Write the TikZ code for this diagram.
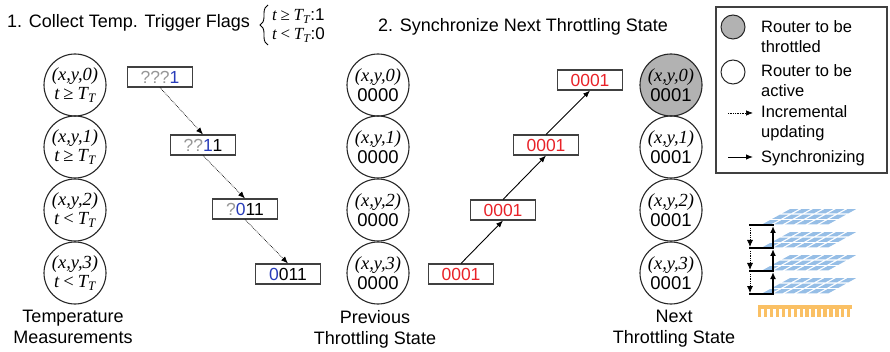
\documentclass[tikz,border=0pt]{standalone}
\usepackage{fontspec}
\setmainfont{Liberation Sans}
\newfontfamily\timesfont{Liberation Serif}
\usetikzlibrary{arrows.meta,decorations.pathreplacing}

\definecolor{qgray}{RGB}{150,150,150}
\definecolor{newbit}{RGB}{40,60,185}
\definecolor{syncred}{RGB}{232,34,40}
\definecolor{hotgray}{RGB}{178,178,178}
\definecolor{tileblue}{RGB}{150,190,230}
\definecolor{sinkorange}{RGB}{250,192,100}

% coordinate and temperature labels inside a router
\newcommand\rxyz[1]{{\timesfont\itshape (x,y,#1)}}
\newcommand\tge{{\timesfont\itshape t\hspace{0.22em}{\upshape ≥}\hspace{0.22em}T\textsubscript{T}}}
\newcommand\tlt{{\timesfont\itshape t\hspace{0.22em}{\upshape <}\hspace{0.22em}T\textsubscript{T}}}
% flag strings: unknown bits, newly written bit, known bits
\newcommand\flags[3]{{\color{qgray}#1}{\color{newbit}#2}#3}

\begin{document}
\begin{tikzpicture}[x=1pt,y=-1pt,
  router/.style={circle, draw=black!85, line width=1.1pt, minimum size=62pt,
    inner sep=0pt, align=center, font=\fontsize{18.5}{19.5}\selectfont},
  hot/.style={router, fill=hotgray},
  flagbox/.style={draw=black!75, line width=1.1pt, minimum width=65pt,
    minimum height=20pt, inner sep=0pt, font=\fontsize{17.5}{18}\selectfont},
  syncbox/.style={flagbox, text=syncred},
  lbl/.style={align=center, inner sep=0pt, font=\fontsize{18}{21}\selectfont},
  title/.style={inner sep=0pt, font=\fontsize{18}{21}\selectfont},
  cond/.style={inner sep=0pt, anchor=base west, font=\fontsize{17}{18}\selectfont},
  legtext/.style={inner sep=0pt, anchor=base west, font=\fontsize{16.5}{20}\selectfont},
  tip/.style={-{Latex[length=7pt,width=5.5pt]}},
  incr/.style={tip, densely dotted, line width=0.7pt},
  sync/.style={tip, line width=0.9pt},
]
\useasboundingbox (0,0) rectangle (890,352);

% ---------------- titles ----------------
\node[title, anchor=base west] (t1) at (7,28) {1. Collect Temp. Trigger Flags};
\draw[line width=0.9pt, decorate, decoration={brace, amplitude=8pt}]
  (268,45) -- (268,5);
\node[cond] (c1) at (272,21) {\tge:1};
\node[cond] (c0) at (272,40) {\tlt:0};
\node[title, anchor=base west] (t2) at (378,32) {2. Synchronize Next Throttling State};

% ---------------- temperature measurements ----------------
\node[router] (m0) at (75,85)  {\rxyz{0}\\\tge};
\node[router] (m1) at (75,147) {\rxyz{1}\\\tge};
\node[router] (m2) at (75,210) {\rxyz{2}\\\tlt};
\node[router] (m3) at (75,273) {\rxyz{3}\\\tlt};
\node[lbl, anchor=north] (lm) at (73,310) {Temperature\\Measurements};

% incremental flag collection
\node[flagbox] (f0) at (160,77)  {\flags{???}{1}{}};
\node[flagbox] (f1) at (203,145) {\flags{??}{1}{1}};
\node[flagbox] (f2) at (245,209) {\flags{?}{0}{11}};
\node[flagbox] (f3) at (288,274) {\flags{}{0}{011}};
\draw[incr] (f0.south) -- (f1.north);
\draw[incr] (f1.south) -- (f2.north);
\draw[incr] (f2.south) -- (f3.north);

% ---------------- previous throttling state ----------------
\node[router] (p0) at (378,85)  {\rxyz{0}\\0000};
\node[router] (p1) at (378,147) {\rxyz{1}\\0000};
\node[router] (p2) at (378,210) {\rxyz{2}\\0000};
\node[router] (p3) at (378,273) {\rxyz{3}\\0000};
\node[lbl, anchor=north] (lp) at (375,310) {Previous\\Throttling State};

% synchronization chain
\node[syncbox] (s0) at (461,274) {0001};
\node[syncbox] (s1) at (503,210) {0001};
\node[syncbox] (s2) at (546,145) {0001};
\node[syncbox] (s3) at (590,80)  {0001};
\draw[sync] (s0.north) -- (s1.south);
\draw[sync] (s1.north) -- (s2.south);
\draw[sync] (s2.north) -- (s3.south);

% ---------------- next throttling state ----------------
\node[hot]    (n0) at (671,85)  {\rxyz{0}\\0001};
\node[router] (n1) at (671,147) {\rxyz{1}\\0001};
\node[router] (n2) at (671,210) {\rxyz{2}\\0001};
\node[router] (n3) at (671,273) {\rxyz{3}\\0001};
\node[lbl, anchor=north] (ln) at (674,310) {Next\\Throttling State};

% ---------------- legend ----------------
\draw[black!75, line width=1.1pt] (716,7) rectangle (887,173);
\node[circle, draw=black!85, fill=hotgray, line width=1pt, minimum size=24pt,
  inner sep=0pt] (lg0) at (733,27) {};
\node[circle, draw=black!85, line width=1pt, minimum size=24pt,
  inner sep=0pt] (lg1) at (733,72) {};
\node[legtext] (lt0) at (761,33) {Router to be};
\node[legtext] (lt1) at (761,53) {throttled};
\node[legtext] (lt2) at (761,77) {Router to be};
\node[legtext] (lt3) at (761,97) {active};
\node[legtext] (lt4) at (761,118) {Incremental};
\node[legtext] (lt5) at (761,138) {updating};
\node[legtext] (lt6) at (761,163) {Synchronizing};
\coordinate (ia) at (728,113);
\coordinate (ib) at (753,113);
\coordinate (sa) at (728,157);
\coordinate (sb) at (753,157);
\draw[incr] (ia) -- (ib);
\draw[sync] (sa) -- (sb);

% ---------------- 3D stack of router layers ----------------
\foreach \yb in {225,248,271,294} {
  \foreach \i in {0,...,5} {
    \foreach \j in {0,...,2} {
      \fill[tileblue] ({760+\i*11.5+\j*10+2.2},{\yb-\j*5.5-0.6})
        -- ++(8.6,0) -- ++(7.6,-4.2) -- ++(-8.6,0) -- cycle;
    }
  }
  \draw[line width=2pt] (749,\yb) -- (774,\yb);
}
% heat sink
\fill[sinkorange] (758,305) rectangle (852,309);
\foreach \k in {0,...,15} {
  \fill[sinkorange] ({758+\k*5.93},309) rectangle ++(3.4,8);
}
% vertical synchronizing and updating arrows between layers
\foreach \ya/\yb in {294/271,271/248,248/225} {
  \draw[line width=1.6pt, -{Latex[length=7pt,width=6pt]}] (773,\ya) -- (773,\yb+1);
}
\foreach \ya/\yb in {225/248,248/271,271/294} {
  \draw[densely dotted, line width=0.8pt, -{Latex[length=7pt,width=6pt]}]
    (750,\ya+3) -- (750,\yb-1);
}
\end{tikzpicture}
\end{document}
